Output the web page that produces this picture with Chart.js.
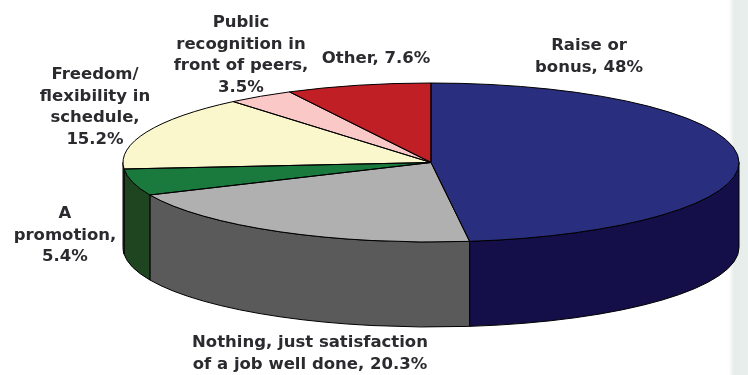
<!DOCTYPE html>
<html>
<head>
<meta charset="utf-8">
<style>
html,body{margin:0;padding:0;background:#fff;overflow:hidden}
#wrap{position:relative;width:748px;height:375px;background:linear-gradient(to right,#fff 0,#fff 729px,#e6ecea 734px,#e9efed 748px)}
canvas{display:block}
</style>
<script src="https://cdn.jsdelivr.net/npm/chart.js@4"></script>
</head>
<body>
<div id="wrap"><canvas id="c" width="748" height="375"></canvas></div>
<script>
const categories = ["Raise or bonus","Nothing, just satisfaction of a job well done","A promotion","Freedom/ flexibility in schedule","Public recognition in front of peers","Other"];
const values = [48,20.3,5.4,15.2,3.5,7.6];
const topColors = ["#2a2e7e","#b0b0b0","#1a7a3e","#fbf7cd","#fbc8c8","#c01f26"];
const wallColors = ["#140f48","#5a5a5a","#1e4420","#5e5c3c","#5e4848","#5a1014"];
const labelLines = [
  ["Raise or","bonus, 48%"],
  ["Nothing, just satisfaction","of a job well done, 20.3%"],
  ["A","promotion,","5.4%"],
  ["Freedom/","flexibility in","schedule,","15.2%"],
  ["Public","recognition in","front of peers,","3.5%"],
  ["Other, 7.6%"]
];
const labelCentres = [[589,46],[310,343],[65,214],[95,75],[241,23],[376,59]];
const lineGap = 21.6;
const ellipseRx = 308, wallDepth = 85;

function geom(chart){
  const a = chart.getDatasetMeta(0).data[0];
  return {cx:a.x, cy:a.y, ry:a.outerRadius, rx:ellipseRx, sx:ellipseRx/a.outerRadius};
}
const pie3d = {
  id:"pie3d",
  beforeDatasetsDraw(chart){
    const g = geom(chart), ctx = chart.ctx;
    const arcs = chart.getDatasetMeta(0).data;
    ctx.save();
    ctx.lineWidth = 1; ctx.strokeStyle = "#000";
    arcs.forEach((el,i)=>{
      const a = Math.max(el.startAngle,0), b = Math.min(el.endAngle,Math.PI);
      if(b<=a) return;
      ctx.beginPath();
      ctx.ellipse(g.cx,g.cy,g.rx,g.ry,0,a,b);
      ctx.ellipse(g.cx,g.cy+wallDepth,g.rx,g.ry,0,b,a,true);
      ctx.closePath();
      ctx.fillStyle = wallColors[i];
      ctx.fill(); ctx.stroke();
    });
    ctx.restore();
    ctx.save();
    ctx.translate(g.cx,g.cy); ctx.scale(g.sx,1); ctx.translate(-g.cx,-g.cy);
  },
  afterDatasetsDraw(chart){
    const ctx = chart.ctx;
    ctx.restore();
    const g = geom(chart);
    const arcs = chart.getDatasetMeta(0).data;
    ctx.save();
    ctx.lineWidth = 1; ctx.strokeStyle = "#000"; ctx.lineJoin = "round";
    arcs.forEach(el=>{
      ctx.beginPath();
      ctx.moveTo(g.cx,g.cy);
      ctx.ellipse(g.cx,g.cy,g.rx,g.ry,0,el.startAngle,el.endAngle);
      ctx.closePath();
      ctx.stroke();
    });
    ctx.fillStyle = "#2b2a2e";
    ctx.font = "bold 16.5px 'DejaVu Sans'";
    ctx.textAlign = "center"; ctx.textBaseline = "middle";
    labelLines.forEach((lines,i)=>{
      lines.forEach((t,j)=>ctx.fillText(t,labelCentres[i][0],labelCentres[i][1]+j*lineGap));
    });
    ctx.restore();
  }
};
new Chart(document.getElementById("c"),{
  type:"pie",
  data:{labels:categories,datasets:[{data:values,backgroundColor:topColors,borderWidth:0}]},
  options:{
    responsive:false,animation:false,events:[],
    layout:{padding:{left:123,right:9,top:83,bottom:133}},
    plugins:{legend:{display:false},tooltip:{enabled:false}}
  },
  plugins:[pie3d]
});
</script>
</body>
</html>
